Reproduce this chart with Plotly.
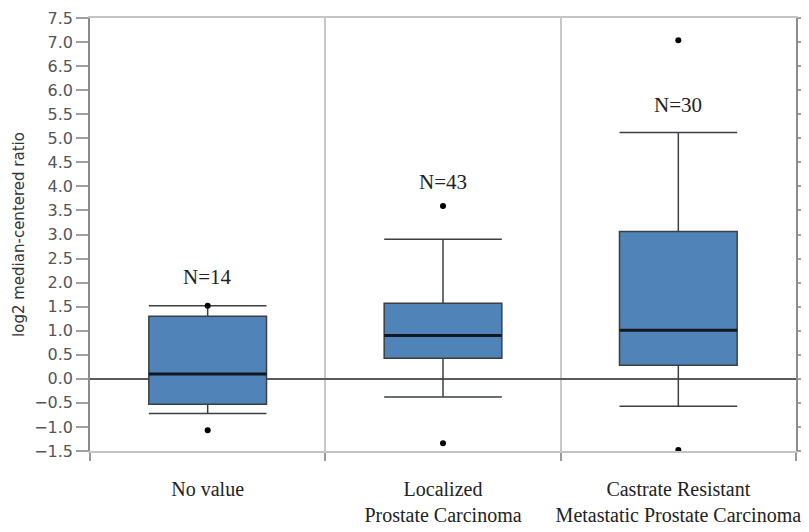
import plotly.graph_objects as go

# ---- data ----
categories = ["No value", "Localized<br>Prostate Carcinoma",
              "Castrate Resistant<br>Metastatic Prostate Carcinoma"]
n_labels = ["N=14", "N=43", "N=30"]
q1 = [-0.53, 0.43, 0.28]
median = [0.10, 0.90, 1.01]
q3 = [1.30, 1.57, 3.06]
lower_whisker = [-0.72, -0.38, -0.57]
upper_whisker = [1.52, 2.90, 5.12]
outlier_group = [0, 0, 1, 1, 2, 2]
outlier_values = [1.52, -1.07, 3.59, -1.34, 7.04, -1.48]

# ---- layout helpers ----
xpos = list(range(len(categories)))
label_y = [2.12, 4.10, 5.70]
box_w = 0.5

fig = go.Figure()
fig.add_trace(go.Box(
    x=xpos, q1=q1, median=median, q3=q3,
    lowerfence=lower_whisker, upperfence=upper_whisker,
    width=box_w, whiskerwidth=1, boxpoints=False,
    fillcolor="#5084b8", line=dict(color="#3b3f45", width=1.5),
    showlegend=False, hoverinfo="skip"))

# thick median lines
mx, my = [], []
for i, m in zip(xpos, median):
    mx += [i - box_w / 2, i + box_w / 2, None]
    my += [m, m, None]
fig.add_trace(go.Scatter(x=mx, y=my, mode="lines",
                         line=dict(color="#111820", width=3),
                         showlegend=False, hoverinfo="skip"))

# outliers
fig.add_trace(go.Scatter(x=outlier_group, y=outlier_values, mode="markers",
                         marker=dict(color="black", size=6), cliponaxis=False,
                         showlegend=False, hoverinfo="skip"))

for i, t, yy in zip(xpos, n_labels, label_y):
    fig.add_annotation(x=i, y=yy, text=t, showarrow=False,
                       font=dict(family="Liberation Serif", size=21, color="#222"))

# the page adds an 8px body margin, so margins are offset to compensate
fig.update_layout(
    width=809, height=532,
    margin=dict(l=82, r=21, t=10, b=89, autoexpand=False),
    plot_bgcolor="white", paper_bgcolor="white",
    xaxis=dict(
        range=[-0.5, 2.5], tickmode="array", tickvals=xpos, ticktext=categories,
        ticks="", showgrid=False, zeroline=False, automargin=False,
        showline=True, linecolor="#c4c4c4", linewidth=1.5, mirror=True,
        tickfont=dict(family="Liberation Serif", size=20, color="#222"),
        ticklabelstandoff=19,
        minor=dict(tickmode="array", tickvals=[-0.5, 0.5, 1.5, 2.5],
                   ticks="outside", ticklen=8, tickcolor="#9a9a9a", tickwidth=1.5,
                   showgrid=True, gridcolor="#c8c8c8", gridwidth=1.5),
    ),
    yaxis=dict(
        range=[-1.5, 7.5], tick0=0, dtick=0.5, tickformat=".1f",
        ticks="outside", ticklen=12, tickcolor="#a0a0a0", tickwidth=1.5,
        showline=True, linecolor="#8c8c8c", linewidth=1.5, mirror="ticks",
        showgrid=False, zeroline=True, zerolinecolor="#5a5a5a", zerolinewidth=1.5,
        automargin=False,
        tickfont=dict(family="DejaVu Sans", size=16, color="#555"),
        title=dict(text="log2 median-centered ratio",
                   font=dict(family="DejaVu Sans", size=15, color="#333"),
                   standoff=6),
    ),
)

fig.write_html("out.html")
